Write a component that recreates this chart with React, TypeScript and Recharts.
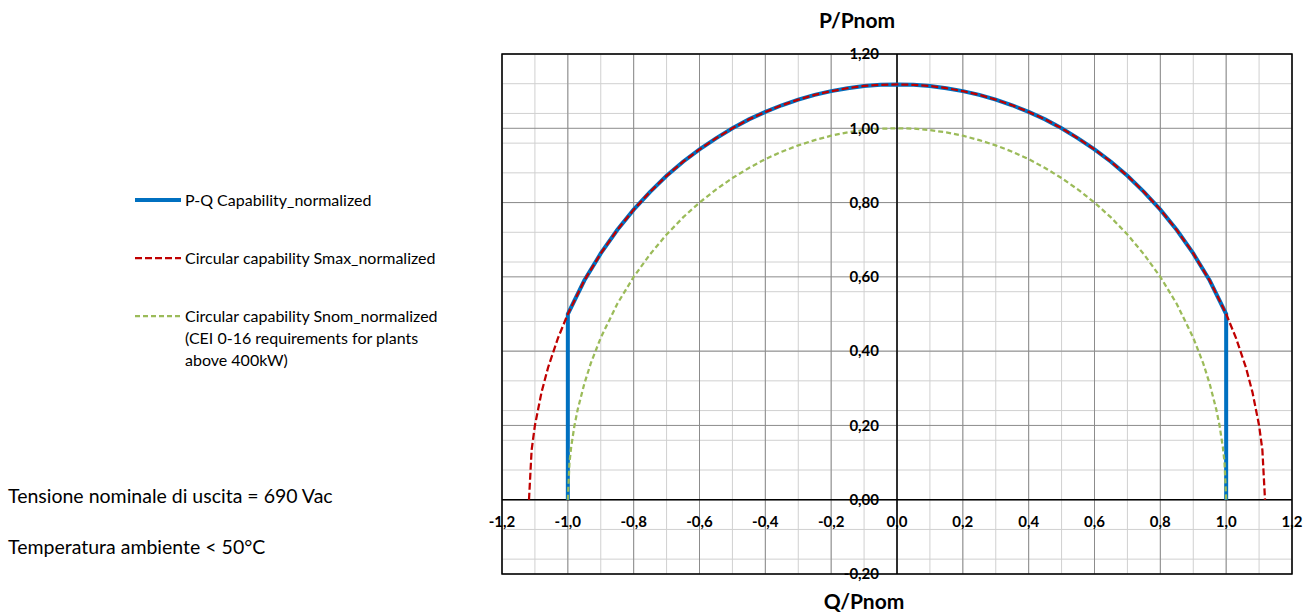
import React from 'react';
import {
  ComposedChart,
  Line,
  XAxis,
  YAxis,
  CartesianGrid,
  ReferenceLine,
  ReferenceArea,
  ReferenceDot,
  Legend,
} from 'recharts';

// ---- Data ----
const pqCapability = [
  { q: -1.0, p: 0 }, { q: -1.0, p: 0.5 }, { q: -0.95, p: 0.59 }, { q: -0.9, p: 0.663 },
  { q: -0.85, p: 0.726 }, { q: -0.8, p: 0.781 }, { q: -0.75, p: 0.829 }, { q: -0.7, p: 0.872 },
  { q: -0.65, p: 0.91 }, { q: -0.6, p: 0.943 }, { q: -0.55, p: 0.973 }, { q: -0.5, p: 1.0 },
  { q: -0.45, p: 1.024 }, { q: -0.4, p: 1.044 }, { q: -0.35, p: 1.062 }, { q: -0.3, p: 1.077 },
  { q: -0.25, p: 1.09 }, { q: -0.2, p: 1.1 }, { q: -0.15, p: 1.108 }, { q: -0.1, p: 1.114 },
  { q: -0.05, p: 1.117 }, { q: 0, p: 1.118 }, { q: 0.05, p: 1.117 }, { q: 0.1, p: 1.114 },
  { q: 0.15, p: 1.108 }, { q: 0.2, p: 1.1 }, { q: 0.25, p: 1.09 }, { q: 0.3, p: 1.077 },
  { q: 0.35, p: 1.062 }, { q: 0.4, p: 1.044 }, { q: 0.45, p: 1.024 }, { q: 0.5, p: 1.0 },
  { q: 0.55, p: 0.973 }, { q: 0.6, p: 0.943 }, { q: 0.65, p: 0.91 }, { q: 0.7, p: 0.872 },
  { q: 0.75, p: 0.829 }, { q: 0.8, p: 0.781 }, { q: 0.85, p: 0.726 }, { q: 0.9, p: 0.663 },
  { q: 0.95, p: 0.59 }, { q: 1.0, p: 0.5 }, { q: 1.0, p: 0 },
];

const smaxCircle = [
  { q: -1.118, p: 0 }, { q: -1.11, p: 0.134 }, { q: -1.1, p: 0.2 }, { q: -1.08, p: 0.289 },
  { q: -1.06, p: 0.356 }, { q: -1.03, p: 0.435 }, { q: -1.0, p: 0.5 }, { q: -0.95, p: 0.59 },
  { q: -0.9, p: 0.663 }, { q: -0.85, p: 0.726 }, { q: -0.8, p: 0.781 }, { q: -0.75, p: 0.829 },
  { q: -0.7, p: 0.872 }, { q: -0.65, p: 0.91 }, { q: -0.6, p: 0.943 }, { q: -0.55, p: 0.973 },
  { q: -0.5, p: 1.0 }, { q: -0.45, p: 1.024 }, { q: -0.4, p: 1.044 }, { q: -0.35, p: 1.062 },
  { q: -0.3, p: 1.077 }, { q: -0.25, p: 1.09 }, { q: -0.2, p: 1.1 }, { q: -0.15, p: 1.108 },
  { q: -0.1, p: 1.114 }, { q: -0.05, p: 1.117 }, { q: 0, p: 1.118 }, { q: 0.05, p: 1.117 },
  { q: 0.1, p: 1.114 }, { q: 0.15, p: 1.108 }, { q: 0.2, p: 1.1 }, { q: 0.25, p: 1.09 },
  { q: 0.3, p: 1.077 }, { q: 0.35, p: 1.062 }, { q: 0.4, p: 1.044 }, { q: 0.45, p: 1.024 },
  { q: 0.5, p: 1.0 }, { q: 0.55, p: 0.973 }, { q: 0.6, p: 0.943 }, { q: 0.65, p: 0.91 },
  { q: 0.7, p: 0.872 }, { q: 0.75, p: 0.829 }, { q: 0.8, p: 0.781 }, { q: 0.85, p: 0.726 },
  { q: 0.9, p: 0.663 }, { q: 0.95, p: 0.59 }, { q: 1.0, p: 0.5 }, { q: 1.03, p: 0.435 },
  { q: 1.06, p: 0.356 }, { q: 1.08, p: 0.289 }, { q: 1.1, p: 0.2 }, { q: 1.11, p: 0.134 },
  { q: 1.118, p: 0 },
];

const snomCircle = [
  { q: -1.0, p: 0 }, { q: -0.995, p: 0.1 }, { q: -0.99, p: 0.141 }, { q: -0.98, p: 0.199 },
  { q: -0.97, p: 0.243 }, { q: -0.95, p: 0.312 }, { q: -0.93, p: 0.368 }, { q: -0.9, p: 0.436 },
  { q: -0.85, p: 0.527 }, { q: -0.8, p: 0.6 }, { q: -0.75, p: 0.661 }, { q: -0.7, p: 0.714 },
  { q: -0.65, p: 0.76 }, { q: -0.6, p: 0.8 }, { q: -0.55, p: 0.835 }, { q: -0.5, p: 0.866 },
  { q: -0.45, p: 0.893 }, { q: -0.4, p: 0.917 }, { q: -0.35, p: 0.937 }, { q: -0.3, p: 0.954 },
  { q: -0.25, p: 0.968 }, { q: -0.2, p: 0.98 }, { q: -0.15, p: 0.989 }, { q: -0.1, p: 0.995 },
  { q: -0.05, p: 0.999 }, { q: 0, p: 1.0 }, { q: 0.05, p: 0.999 }, { q: 0.1, p: 0.995 },
  { q: 0.15, p: 0.989 }, { q: 0.2, p: 0.98 }, { q: 0.25, p: 0.968 }, { q: 0.3, p: 0.954 },
  { q: 0.35, p: 0.937 }, { q: 0.4, p: 0.917 }, { q: 0.45, p: 0.893 }, { q: 0.5, p: 0.866 },
  { q: 0.55, p: 0.835 }, { q: 0.6, p: 0.8 }, { q: 0.65, p: 0.76 }, { q: 0.7, p: 0.714 },
  { q: 0.75, p: 0.661 }, { q: 0.8, p: 0.6 }, { q: 0.85, p: 0.527 }, { q: 0.9, p: 0.436 },
  { q: 0.93, p: 0.368 }, { q: 0.95, p: 0.312 }, { q: 0.97, p: 0.243 }, { q: 0.98, p: 0.199 },
  { q: 0.99, p: 0.141 }, { q: 0.995, p: 0.1 }, { q: 1.0, p: 0 },
];

const xTicks = [-1.2, -1.0, -0.8, -0.6, -0.4, -0.2, 0, 0.2, 0.4, 0.6, 0.8, 1.0, 1.2];
const yTicks = [-0.2, 0, 0.2, 0.4, 0.6, 0.8, 1.0, 1.2];
const xMinorTicks = [
  -1.2, -1.1, -1.0, -0.9, -0.8, -0.7, -0.6, -0.5, -0.4, -0.3, -0.2, -0.1, 0,
  0.1, 0.2, 0.3, 0.4, 0.5, 0.6, 0.7, 0.8, 0.9, 1.0, 1.1, 1.2,
];
const yMinorTicks = [
  -0.2, -0.16, -0.12, -0.08, -0.04, 0, 0.04, 0.08, 0.12, 0.16, 0.2, 0.24, 0.28, 0.32, 0.36,
  0.4, 0.44, 0.48, 0.52, 0.56, 0.6, 0.64, 0.68, 0.72, 0.76, 0.8, 0.84, 0.88, 0.92, 0.96,
  1.0, 1.04, 1.08, 1.12, 1.16, 1.2,
];

const seriesNames = [
  'P-Q Capability_normalized',
  'Circular capability Smax_normalized',
  'Circular capability Snom_normalized (CEI 0-16 requirements for plants above 400kW)',
];

const infoLines = ['Tensione nominale di uscita = 690 Vac', 'Temperatura ambiente < 50°C'];

// ---- Styles ----
const FONT = 'Lato, "Open Sans", sans-serif';
const BLUE = '#0070C0';
const RED = '#C00000';
const GREEN = '#9BBB59';

const fmtX = (v: number) => v.toFixed(1).replace('.', ',');
const fmtY = (v: number) => v.toFixed(2).replace('.', ',');

const LegendContent = (props: any) => {
  const payload = [...(props.payload || [])].sort(
    (a: any, b: any) => seriesNames.indexOf(a.value) - seriesNames.indexOf(b.value)
  );
  return (
    <div style={{ fontFamily: FONT, fontSize: 16, color: '#000' }}>
      {payload.map((entry: any, i: number) => (
        <div
          key={i}
          style={{ display: 'flex', alignItems: 'flex-start', marginBottom: 36, lineHeight: '22px' }}
        >
          <svg width={46} height={22} style={{ flex: 'none' }}>
            <line
              x1={0}
              y1={11}
              x2={46}
              y2={11}
              stroke={entry.color}
              strokeWidth={entry.payload.strokeWidth}
              strokeDasharray={entry.payload.strokeDasharray}
            />
          </svg>
          <span style={{ width: 262, marginLeft: 4 }}>{entry.value}</span>
        </div>
      ))}
    </div>
  );
};

export default function App() {
  return (
    <div style={{ position: 'absolute', left: 0, top: 0, width: 1305, height: 612, background: '#fff' }}>
      <ComposedChart
        width={1305}
        height={612}
        margin={{ top: 54, right: 13, bottom: 38, left: 502 }}
      >
        <XAxis
          type="number"
          dataKey="q"
          domain={[-1.2, 1.2]}
          ticks={xTicks}
          allowDataOverflow
          hide
        />
        <YAxis type="number" dataKey="p" domain={[-0.2, 1.2]} ticks={yTicks} allowDataOverflow hide />
        <CartesianGrid
          stroke="#d0d0d0"
          strokeWidth={1}
          verticalValues={xMinorTicks}
          horizontalValues={yMinorTicks}
        />
        <CartesianGrid
          stroke="#8c8c8c"
          strokeWidth={1}
          verticalValues={xTicks}
          horizontalValues={yTicks}
        />
        <ReferenceArea x1={-1.2} x2={1.2} y1={-0.2} y2={1.2} fill="none" stroke="#000" strokeWidth={1.5} />
        <ReferenceLine x={0} stroke="#000" strokeWidth={1.5} />
        <ReferenceLine y={0} stroke="#000" strokeWidth={1.5} />
        <Legend
          layout="vertical"
          align="center"
          verticalAlign="middle"
          content={<LegendContent />}
          wrapperStyle={{ left: 135, top: 189, width: 330, bottom: 'auto', right: 'auto' }}
        />
        <Line
          data={pqCapability}
          dataKey="p"
          name={seriesNames[0]}
          type="linear"
          stroke={BLUE}
          strokeWidth={4}
          dot={false}
          isAnimationActive={false}
        />
        <Line
          data={smaxCircle}
          dataKey="p"
          name={seriesNames[1]}
          type="linear"
          stroke={RED}
          strokeWidth={2.25}
          strokeDasharray="7 3"
          dot={false}
          isAnimationActive={false}
        />
        <Line
          data={snomCircle}
          dataKey="p"
          name={seriesNames[2]}
          type="linear"
          stroke={GREEN}
          strokeWidth={2.25}
          strokeDasharray="5 3"
          dot={false}
          isAnimationActive={false}
        />
        {xTicks.map((v) => (
          <ReferenceDot
            key={'xl' + v}
            x={v}
            y={0}
            r={1}
            fill="none"
            stroke="none"
            label={{
              value: fmtX(v),
              position: 'bottom',
              offset: 16,
              fill: '#000',
              fontSize: 15,
              fontWeight: 700,
              fontFamily: FONT,
            }}
          />
        ))}
        {yTicks.map((v) => (
          <ReferenceDot
            key={'yl' + v}
            x={0}
            y={v}
            r={1}
            fill="none"
            stroke="none"
            label={{
              value: fmtY(v),
              position: 'left',
              offset: 17,
              fill: '#000',
              fontSize: 15,
              fontWeight: 700,
              fontFamily: FONT,
            }}
          />
        ))}
      </ComposedChart>
      <div
        style={{
          position: 'absolute',
          left: 757,
          width: 200,
          top: 7,
          textAlign: 'center',
          fontFamily: FONT,
          fontWeight: 700,
          fontSize: 21,
          lineHeight: '26px',
        }}
      >
        P/Pnom
      </div>
      <div
        style={{
          position: 'absolute',
          left: 764,
          width: 200,
          top: 588,
          textAlign: 'center',
          fontFamily: FONT,
          fontWeight: 700,
          fontSize: 21,
          lineHeight: '26px',
        }}
      >
        Q/Pnom
      </div>
      {infoLines.map((t, i) => (
        <div
          key={t}
          style={{
            position: 'absolute',
            left: 8,
            top: 484 + i * 51,
            fontFamily: FONT,
            fontSize: 19.5,
            lineHeight: '24px',
            whiteSpace: 'nowrap',
          }}
        >
          {t}
        </div>
      ))}
    </div>
  );
}
